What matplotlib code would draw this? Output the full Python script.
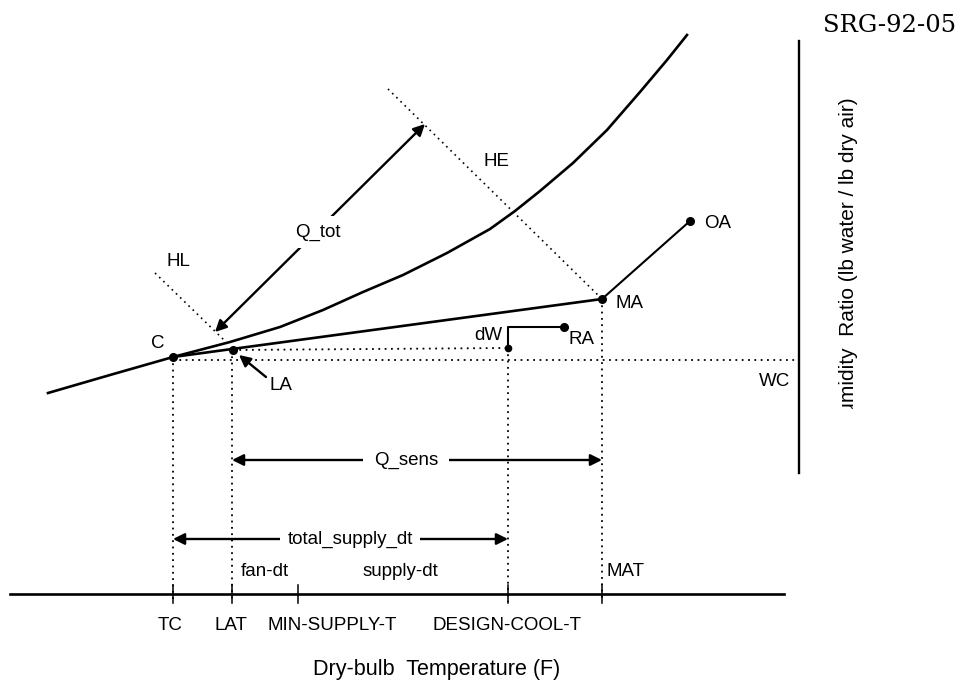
import numpy as np
import matplotlib.pyplot as plt
from matplotlib.transforms import Bbox, TransformedBbox

## sketch units: x = dry-bulb position, y = humidity position (drawn downward)
sat_x = [48, 110, 173, 230, 280, 323, 363, 403, 447, 490, 515, 540, 573, 607, 640, 667, 687]
sat_y = [393, 375, 357, 342, 327, 310, 292, 275, 253, 229, 211, 191, 163, 130, 92, 60, 35]

state_names = ['C', 'LA', 'MA', 'OA', 'RA']
state_x = [173, 233, 602, 690, 564]
state_y = [357, 350, 299, 221, 327]

dw_x = [564, 508, 508]
dw_y = [327, 327, 348]

hl_x = [155, 224]
hl_y = [273, 340]
he_x = [388, 602]
he_y = [89, 299]

temp_names = ['TC', 'LAT', 'MIN-SUPPLY-T', 'DESIGN-COOL-T', 'MAT']
temp_x = [173, 232, 298, 508, 602]
temp_top = [357, 350, None, 348, 299]

wc_y = 360
axis_y = 594
axis_x = [10, 784]
right_x = 799
right_y = [41, 473]

plt.rcParams['font.family'] = 'Liberation Sans'

figure = plt.figure(figsize=(9.62, 6.81), dpi=100)
ax = figure.add_axes([0, 0, 1, 1])
ax.set_xlim(0, 962)
ax.set_ylim(681, 0)
ax.axis('off')

## saturation curve
ax.plot(sat_x, sat_y, color='black', lw=1.9, solid_joinstyle='round')

## process lines
ax.plot([state_x[0], state_x[2]], [state_y[0], state_y[2]], color='black', lw=1.9)
ax.plot([state_x[2], state_x[3]], [state_y[2], state_y[3]], color='black', lw=1.5)
ax.plot(dw_x, dw_y, color='black', lw=1.5)
ax.plot(state_x, state_y, 'o', color='black', ms=5.5)
ax.plot(dw_x[-1], dw_y[-1], 'o', color='black', ms=4.5)

## enthalpy lines
dot = (0, (1, 2.5))
ax.plot(hl_x, hl_y, color='black', lw=1.2, linestyle=dot)
ax.plot(he_x, he_y, color='black', lw=1.2, linestyle=dot)

## horizontal dotted lines
ax.plot([state_x[1], dw_x[-1]], [state_y[1], dw_y[-1]], color='black', lw=1.3, linestyle=dot)
ax.plot([state_x[0], right_x], [wc_y, wc_y], color='black', lw=1.3, linestyle=dot)

## vertical dotted lines and ticks
for x, top in zip(temp_x, temp_top):
    if top is not None:
        ax.plot([x, x], [top, axis_y + 8], color='black', lw=1.3, linestyle=dot)
    ax.plot([x, x], [axis_y - 9, axis_y + 9], color='black', lw=1.1)

## axes
ax.plot(axis_x, [axis_y, axis_y], color='black', lw=1.9)
ax.plot([right_x, right_x], right_y, color='black', lw=1.7)

## arrows
arrow = dict(arrowstyle='<|-|>', color='black', lw=1.7, mutation_scale=17, shrinkA=0, shrinkB=0)
ax.annotate('', xy=(215, 332), xytext=(425, 124), arrowprops=arrow)
ax.text(318, 232, 'Q_tot', fontsize=13.5, ha='center', va='center',
        bbox=dict(boxstyle='square,pad=0.4', fc='white', ec='none'))

ax.annotate('', xy=(temp_x[1], 460), xytext=(temp_x[4], 460), arrowprops=arrow)
ax.text(406, 460, 'Q_sens', fontsize=13.5, ha='center', va='center',
        bbox=dict(boxstyle='square,pad=0.6', fc='white', ec='none'))

ax.annotate('', xy=(temp_x[0], 539), xytext=(temp_x[3], 539), arrowprops=arrow)
ax.text(350, 539, 'total_supply_dt', fontsize=13.5, ha='center', va='center',
        bbox=dict(boxstyle='square,pad=0.4', fc='white', ec='none'))

ax.annotate('', xy=(239, 355), xytext=(266, 377),
            arrowprops=dict(arrowstyle='-|>', color='black', lw=1.7, mutation_scale=17,
                            shrinkA=0, shrinkB=0))

## point labels
lab = dict(fontsize=13.5, ha='center', va='center')
ax.text(158, 344, 'C', **lab)
ax.text(281, 386, 'LA', **lab)
ax.text(178, 261, 'HL', **lab)
ax.text(497, 161, 'HE', **lab)
ax.text(630, 304, 'MA', **lab)
ax.text(718, 223, 'OA', **lab)
ax.text(582, 340, 'RA', **lab)
ax.text(488, 336, 'dW', **lab)
ax.text(775, 381, 'WC', **lab)
ax.text(265, 571, 'fan-dt', **lab)
ax.text(400, 571, 'supply-dt', **lab)
ax.text(626, 572, 'MAT', **lab)

for name, x in zip(temp_names[:4], [170, 231, 332, 507]):
    ax.text(x, 625, name, **lab)

ax.text(437, 670, 'Dry-bulb  Temperature (F)', fontsize=15.5, ha='center', va='center')

## y label is cut off in the original scan
ylab = ax.text(849, 97, 'Humidity  Ratio (lb water / lb dry air)', fontsize=15,
               rotation=90, ha='center', va='top')
ylab.set_clip_box(TransformedBbox(Bbox.from_extents(800 / 962, 272 / 681, 1, 1),
                                  figure.transFigure))
ylab.set_clip_on(True)

ax.text(890, 26, 'SRG-92-05', fontsize=17.5, family='DejaVu Serif', ha='center', va='center')

plt.savefig('out.png', dpi=100)
